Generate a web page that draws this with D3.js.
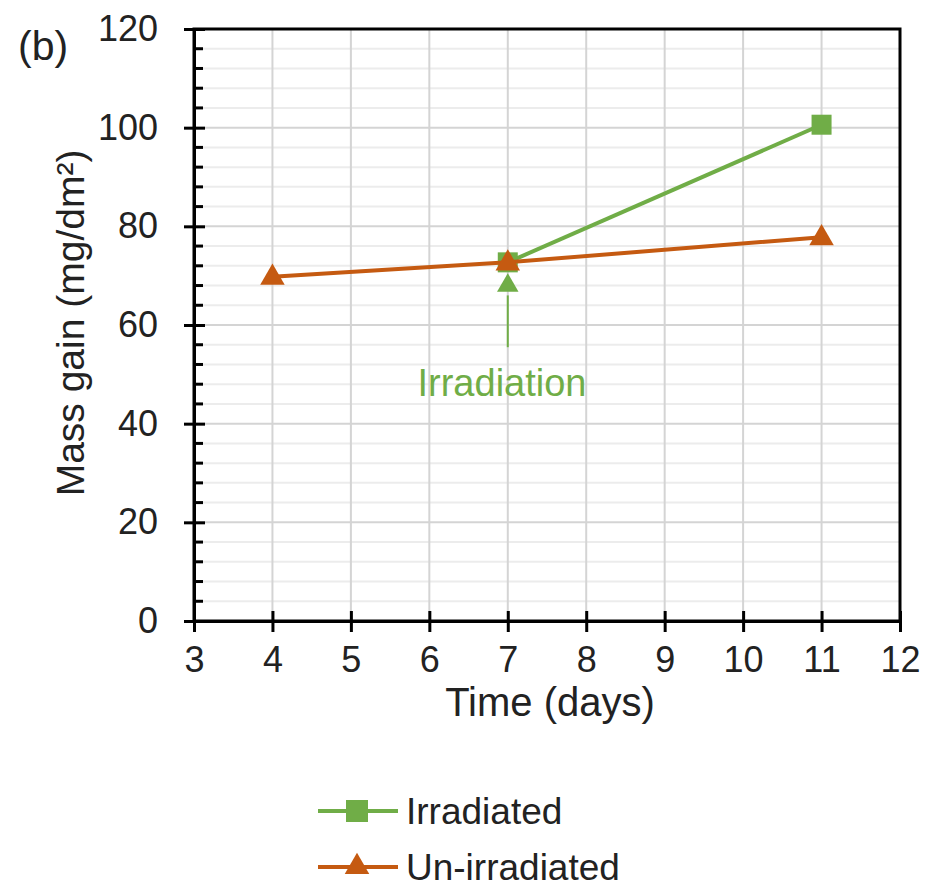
<!DOCTYPE html>
<html>
<head>
<meta charset="utf-8">
<script src="https://cdn.jsdelivr.net/npm/d3@7"></script>
<style>
  body { margin: 0; background: #fff; }
  svg { font-family: "Liberation Sans", Arial, sans-serif; }
</style>
</head>
<body>
<svg width="930" height="888"></svg>
<script>
const days = [4, 7, 11];
const irradiated = [null, 72.7, 100.6];
const unIrradiated = [69.8, 72.7, 77.8];
const xTicks = [3, 4, 5, 6, 7, 8, 9, 10, 11, 12];
const yTicks = [0, 20, 40, 60, 80, 100, 120];
const seriesNames = ["Irradiated", "Un-irradiated"];

const green = "#70ad47", orange = "#c55a11";

const svg = d3.select("svg");
const x = d3.scaleLinear().domain([3, 12]).range([194, 900]);
const y = d3.scaleLinear().domain([0, 120]).range([621, 29]);

// grid
const minorY = d3.range(0, 121, 4);
svg.append("g").selectAll("line")
    .data(minorY.filter(v => v % 20))
    .join("line")
    .attr("x1", x(3)).attr("x2", x(12))
    .attr("y1", d => y(d)).attr("y2", d => y(d))
    .attr("stroke", "#ececec").attr("stroke-width", 2);
svg.append("g").selectAll("line")
    .data(yTicks)
    .join("line")
    .attr("x1", x(3)).attr("x2", x(12))
    .attr("y1", d => y(d)).attr("y2", d => y(d))
    .attr("stroke", "#d4d4d4").attr("stroke-width", 2);
svg.append("g").selectAll("line")
    .data(xTicks)
    .join("line")
    .attr("x1", d => x(d)).attr("x2", d => x(d))
    .attr("y1", y(0)).attr("y2", y(120))
    .attr("stroke", "#d4d4d4").attr("stroke-width", 2);

// frame
svg.append("rect")
    .attr("x", x(3)).attr("y", y(120))
    .attr("width", x(12) - x(3)).attr("height", y(0) - y(120))
    .attr("fill", "none").attr("stroke", "#000").attr("stroke-width", 3);

// axes
const yAxis = svg.append("g")
    .attr("transform", `translate(${x(3)},0)`)
    .call(d3.axisLeft(y).tickValues(yTicks).tickSize(10).tickPadding(26));
yAxis.select(".domain").attr("stroke-width", 3);
yAxis.selectAll(".tick line").attr("x2", 11).attr("x1", -10).attr("stroke-width", 3);
yAxis.selectAll("text").attr("font-size", 36).attr("fill", "#222").attr("font-family", null);

svg.append("g").selectAll("line")
    .data(minorY.filter(v => v % 20))
    .join("line")
    .attr("x1", x(3)).attr("x2", x(3) + 9)
    .attr("y1", d => y(d)).attr("y2", d => y(d))
    .attr("stroke", "#000").attr("stroke-width", 3);

const xAxis = svg.append("g")
    .attr("transform", `translate(0,${y(0)})`)
    .call(d3.axisBottom(x).tickValues(xTicks).tickSize(11).tickPadding(14));
xAxis.select(".domain").attr("stroke-width", 3);
xAxis.selectAll(".tick line").attr("y1", -10).attr("stroke-width", 3);
xAxis.selectAll("text").attr("font-size", 36).attr("fill", "#222").attr("font-family", null);

// titles
svg.append("text")
    .attr("x", 550).attr("y", 716)
    .attr("text-anchor", "middle").attr("font-size", 40).attr("fill", "#222")
    .text("Time (days)");
svg.append("text")
    .attr("transform", "translate(84,323) rotate(-90)")
    .attr("text-anchor", "middle").attr("font-size", 39).attr("fill", "#222")
    .text("Mass gain (mg/dm²)");
svg.append("text")
    .attr("x", 18).attr("y", 60)
    .attr("font-size", 41).attr("fill", "#222")
    .text("(b)");

// series
const line = d3.line().defined(d => d != null).x((d, i) => x(days[i])).y(d => y(d));
svg.append("path").datum(irradiated)
    .attr("d", line).attr("fill", "none")
    .attr("stroke", green).attr("stroke-width", 4);
svg.append("g").selectAll("rect")
    .data(irradiated.map((v, i) => [days[i], v]).filter(d => d[1] != null))
    .join("rect")
    .attr("x", d => x(d[0]) - 10).attr("y", d => y(d[1]) - 10)
    .attr("width", 20).attr("height", 20).attr("fill", green);

svg.append("path").datum(unIrradiated)
    .attr("d", line).attr("fill", "none")
    .attr("stroke", orange).attr("stroke-width", 4);
const tri = d3.symbol().type(d3.symbolTriangle).size(260);
svg.append("g").selectAll("path")
    .data(unIrradiated)
    .join("path")
    .attr("transform", (d, i) => `translate(${x(days[i])},${y(d) + 1})`)
    .attr("d", tri).attr("fill", orange);

// irradiation annotation
svg.append("line")
    .attr("x1", x(7)).attr("x2", x(7))
    .attr("y1", y(55.5)).attr("y2", y(66))
    .attr("stroke", green).attr("stroke-width", 2);
svg.append("path")
    .attr("d", d3.symbol().type(d3.symbolTriangle).size(200)())
    .attr("transform", `translate(${x(7)},${y(68)})`)
    .attr("fill", green);
svg.append("text")
    .attr("x", 502).attr("y", 396)
    .attr("text-anchor", "middle").attr("font-size", 38).attr("fill", green)
    .text("Irradiation");

// legend
const legend = svg.append("g").selectAll("g")
    .data(seriesNames)
    .join("g")
    .attr("transform", (d, i) => `translate(318,${811 + i * 56})`);
legend.append("line")
    .attr("x1", 0).attr("x2", 80)
    .attr("stroke", (d, i) => i ? orange : green).attr("stroke-width", 4);
legend.filter((d, i) => i === 0).append("rect")
    .attr("x", 28).attr("y", -11).attr("width", 22).attr("height", 22).attr("fill", green);
legend.filter((d, i) => i === 1).append("path")
    .attr("d", tri).attr("transform", "translate(39,0)").attr("fill", orange);
legend.append("text")
    .attr("x", 88).attr("y", 13)
    .attr("font-size", 37).attr("fill", "#222")
    .text(d => d);
</script>
</body>
</html>
